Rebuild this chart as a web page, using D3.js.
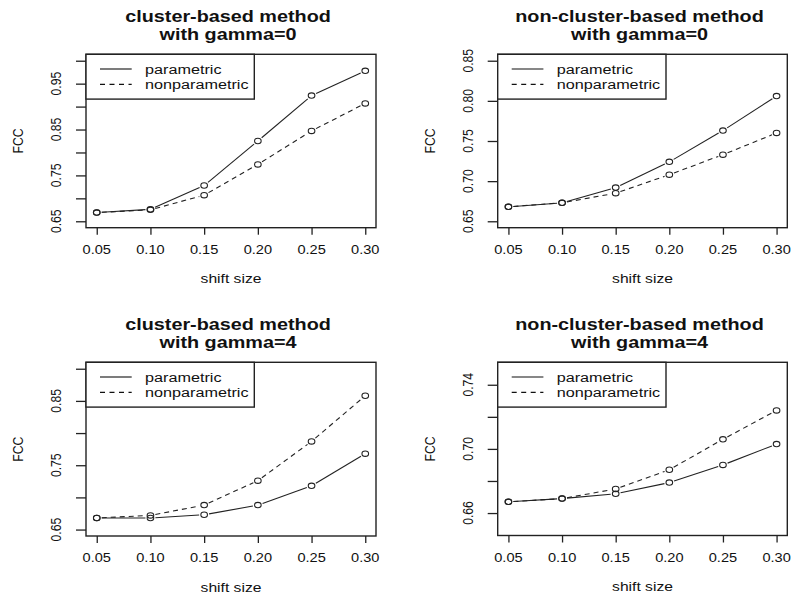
<!DOCTYPE html>
<html>
<head>
<meta charset="utf-8">
<script src="https://cdn.jsdelivr.net/npm/d3@7"></script>
<style>
  body { margin: 0; background: #fff; }
  svg { display: block; font-family: "Liberation Sans", Arial, sans-serif; }
</style>
</head>
<body>
<svg id="chart" width="792" height="596"></svg>
<script>
// ---------------- data ----------------
const shiftSize = [0.05, 0.10, 0.15, 0.20, 0.25, 0.30];
const xTickLabels = ["0.05", "0.10", "0.15", "0.20", "0.25", "0.30"];
const seriesNames = ["parametric", "nonparametric"];

const titles1 = ["cluster-based method", "non-cluster-based method", "cluster-based method", "non-cluster-based method"];
const titles2 = ["with gamma=0", "with gamma=0", "with gamma=4", "with gamma=4"];

const p1Param  = [0.669, 0.676, 0.728, 0.825, 0.924, 0.978];
const p1Nonpar = [0.669, 0.675, 0.707, 0.774, 0.847, 0.907];
const p2Param  = [0.668, 0.673, 0.692, 0.724, 0.763, 0.806];
const p2Nonpar = [0.668, 0.673, 0.685, 0.708, 0.733, 0.760];
const p3Param  = [0.668, 0.668, 0.673, 0.688, 0.718, 0.768];
const p3Nonpar = [0.668, 0.672, 0.688, 0.726, 0.787, 0.858];
const p4Param  = [0.667, 0.669, 0.672, 0.679, 0.690, 0.703];
const p4Nonpar = [0.667, 0.669, 0.675, 0.687, 0.706, 0.724];

const yLim1 = [0.65, 1.00];
const yLim2 = [0.65, 0.85];
const yLim3 = [0.65, 0.90];
const yLim4 = [0.65, 0.75];

const yTicks1 = [0.65, 0.70, 0.75, 0.80, 0.85, 0.90, 0.95, 1.00];
const yTickLabels1 = ["0.65", "", "0.75", "", "0.85", "", "0.95", ""];
const yTicks2 = [0.65, 0.70, 0.75, 0.80, 0.85];
const yTickLabels2 = ["0.65", "0.70", "0.75", "0.80", "0.85"];
const yTicks3 = [0.65, 0.70, 0.75, 0.80, 0.85, 0.90];
const yTickLabels3 = ["0.65", "", "0.75", "", "0.85", ""];
const yTicks4 = [0.66, 0.68, 0.70, 0.72, 0.74];
const yTickLabels4 = ["0.66", "", "0.70", "", "0.74"];

const panelData = [
  { param: p1Param, nonpar: p1Nonpar, ylim: yLim1, ticks: yTicks1, labels: yTickLabels1 },
  { param: p2Param, nonpar: p2Nonpar, ylim: yLim2, ticks: yTicks2, labels: yTickLabels2 },
  { param: p3Param, nonpar: p3Nonpar, ylim: yLim3, ticks: yTicks3, labels: yTickLabels3 },
  { param: p4Param, nonpar: p4Nonpar, ylim: yLim4, ticks: yTicks4, labels: yTickLabels4 }
];

// ---------------- layout ----------------
const boxes = [
  { l: 86,    r: 376,   t: 54.3,  b: 227.7 },
  { l: 497.7, r: 787.3, t: 54.3,  b: 227.7 },
  { l: 86,    r: 376,   t: 362.3, b: 536 },
  { l: 497.7, r: 787.3, t: 362.3, b: 535.5 }
];

const SX = 1.08, SY = 0.9;   // text stretch to mimic the resized bitmap
const ink = "#111";
const svg = d3.select("#chart");

function ext(lim) {
  const d = (lim[1] - lim[0]) * 0.04;
  return [lim[0] - d, lim[1] + d];
}

function hText(g, x, y, str, size, weight, anchor, sx) {
  g.append("text")
    .attr("transform", `translate(${x},${y}) scale(${sx || SX},${SY})`)
    .attr("text-anchor", anchor || "middle")
    .attr("font-size", size)
    .attr("font-weight", weight || "normal")
    .attr("fill", ink)
    .text(str);
}
function vText(g, x, y, str, size) {
  g.append("text")
    .attr("transform", `translate(${x},${y}) rotate(-90) scale(${SY},${SX})`)
    .attr("text-anchor", "middle")
    .attr("dominant-baseline", "central")
    .attr("font-size", size)
    .attr("fill", ink)
    .text(str);
}

panelData.forEach((pd, i) => {
  const bx = boxes[i];
  const g = svg.append("g");
  const x = d3.scaleLinear().domain([0.04, 0.31]).range([bx.l, bx.r]);
  const y = d3.scaleLinear().domain(ext(pd.ylim)).range([bx.b, bx.t]);

  // box
  g.append("rect")
    .attr("x", bx.l).attr("y", bx.t)
    .attr("width", bx.r - bx.l).attr("height", bx.b - bx.t)
    .attr("fill", "none").attr("stroke", "#222").attr("stroke-width", 1.4);

  // x axis via d3.axisBottom (ticks; labels drawn separately)
  const xa = g.append("g").attr("transform", `translate(0,${bx.b})`)
    .call(d3.axisBottom(x).tickValues(shiftSize).tickSize(7).tickFormat(() => ""));
  xa.select(".domain").remove();
  xa.selectAll(".tick line").attr("stroke", "#222").attr("stroke-width", 1.3);
  shiftSize.forEach((v, k) => hText(g, x(v), bx.b + 26, xTickLabels[k], 13.5));

  // y axis via d3.axisLeft
  const ya = g.append("g").attr("transform", `translate(${bx.l},0)`)
    .call(d3.axisLeft(y).tickValues(pd.ticks).tickSize(10).tickFormat(() => ""));
  ya.select(".domain").remove();
  ya.selectAll(".tick line").attr("stroke", "#222").attr("stroke-width", 1.3);
  pd.ticks.forEach((v, k) => { if (pd.labels[k]) vText(g, bx.l - 30, y(v), pd.labels[k], 13.5); });

  // axis titles
  hText(g, (bx.l + bx.r) / 2, bx.b + 55.5, "shift size", 14.5);
  vText(g, bx.l - 68, (bx.t + bx.b) / 2, "FCC", 13.5);

  // main title
  const cx = (bx.l + bx.r) / 2 - 3;
  hText(g, cx, bx.t - 32, titles1[i], 18, "bold", "middle", 1.1);
  hText(g, cx, bx.t - 14.8, titles2[i], 18, "bold", "middle", 1.1);

  // series lines (type = "b": gaps around points)
  const gap = 5;
  [[pd.param, null], [pd.nonpar, "5,4"]].forEach(([vals, dash]) => {
    const pts = shiftSize.map((s, k) => [x(s), y(vals[k])]);
    for (let k = 0; k < pts.length - 1; k++) {
      const [x0, y0] = pts[k], [x1, y1] = pts[k + 1];
      const L = Math.hypot(x1 - x0, y1 - y0);
      if (L <= 2 * gap) continue;
      const ux = (x1 - x0) / L, uy = (y1 - y0) / L;
      g.append("line")
        .attr("x1", x0 + ux * gap).attr("y1", y0 + uy * gap)
        .attr("x2", x1 - ux * gap).attr("y2", y1 - uy * gap)
        .attr("stroke", "#222").attr("stroke-width", 1.1)
        .attr("stroke-dasharray", dash);
    }
    g.selectAll(null).data(pts).enter().append("ellipse")
      .attr("cx", d => d[0]).attr("cy", d => d[1])
      .attr("rx", 3.3).attr("ry", 2.7)
      .attr("fill", "none").attr("stroke", "#222").attr("stroke-width", 1.1);
  });

  // legend
  const lg = g.append("g").attr("transform", `translate(${bx.l},${bx.t})`);
  lg.append("rect").attr("x", 0).attr("y", 0).attr("width", 168.3).attr("height", 44.8)
    .attr("fill", "#fff").attr("stroke", "#222").attr("stroke-width", 1.4);
  seriesNames.forEach((nm, k) => {
    const yy = 14.7 + k * 15.4;
    lg.append("line").attr("x1", 14).attr("x2", 45.7).attr("y1", yy).attr("y2", yy)
      .attr("stroke", "#111").attr("stroke-width", 1.1)
      .attr("stroke-dasharray", k === 1 ? "5,4.5" : null);
    lg.append("text")
      .attr("transform", `translate(59,${yy + 4.5}) scale(${SX},${SY})`)
      .attr("font-size", 15)
      .attr("fill", ink)
      .text(nm);
  });
});
</script>
</body>
</html>
